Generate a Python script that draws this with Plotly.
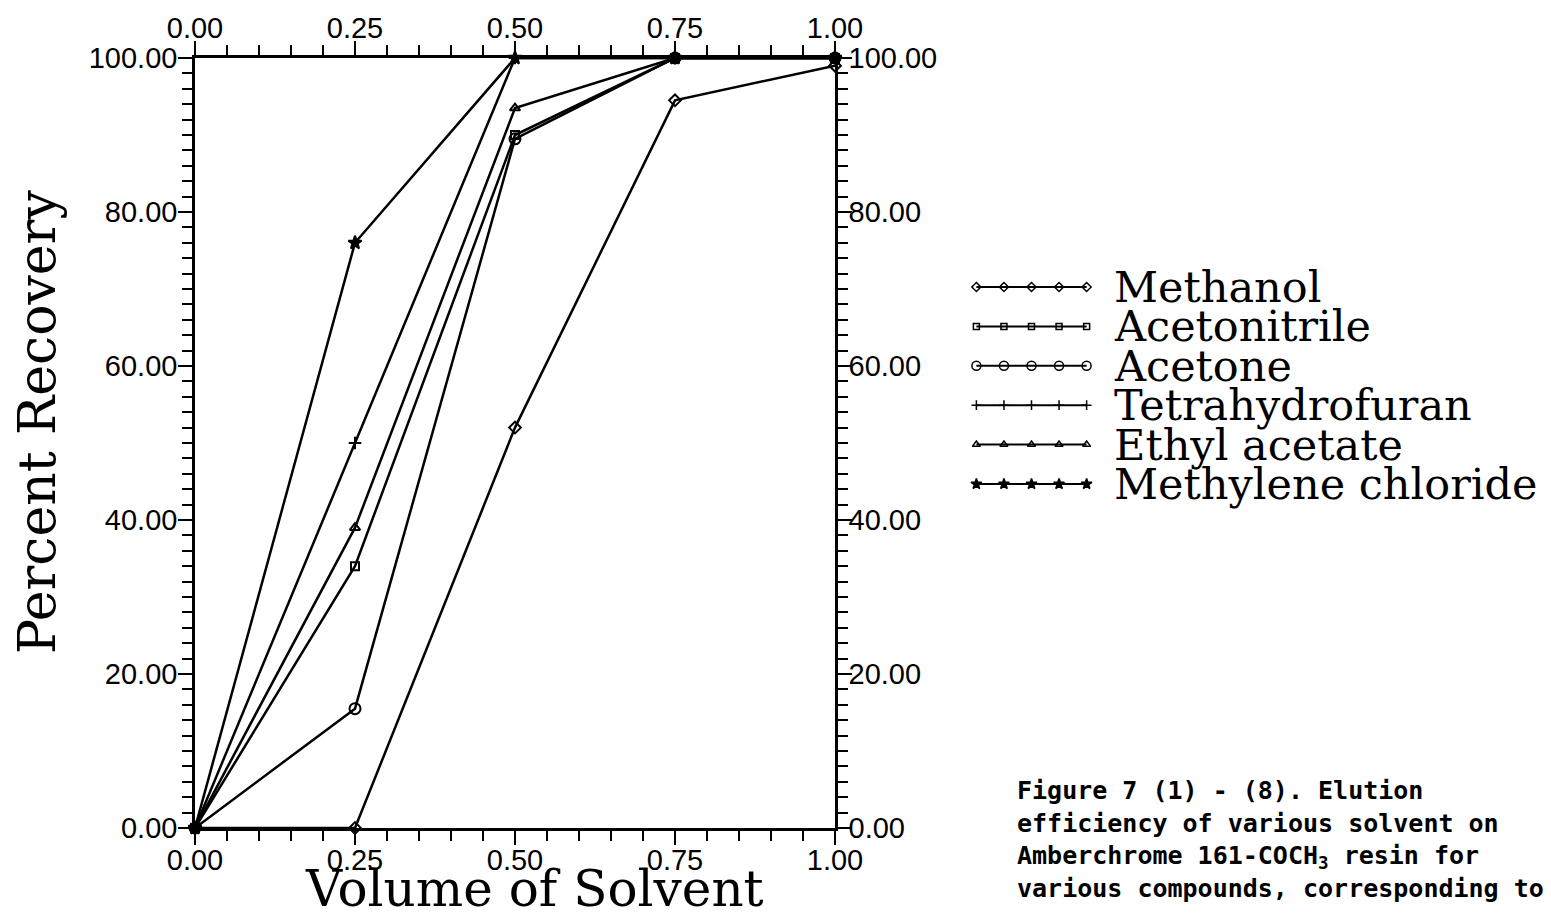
import plotly.graph_objects as go

volume = [0.0, 0.25, 0.50, 0.75, 1.00]
series_names = ["Methanol", "Acetonitrile", "Acetone", "Tetrahydrofuran",
                "Ethyl acetate", "Methylene chloride"]
methanol = [0.0, 0.0, 52.0, 94.5, 99.0]
acetonitrile = [0.0, 34.0, 90.0, 100.0, 100.0]
acetone = [0.0, 15.5, 89.5, 100.0, 100.0]
thf = [0.0, 50.0, 100.0, 100.0, 100.0]
ethyl_acetate = [0.0, 39.0, 93.5, 100.0, 100.0]
methylene_chloride = [0.0, 76.0, 100.0, 100.0, 100.0]
all_series = [methanol, acetonitrile, acetone, thf, ethyl_acetate, methylene_chloride]
symbols = ["diamond-open", "square-open", "circle-open", "cross-thin-open",
           "triangle-up-open", "star"]
sizes = [9, 8, 11, 9, 9, 10]

x_ticks = [0.0, 0.25, 0.5, 0.75, 1.0]
y_ticks = [0, 20, 40, 60, 80, 100]
caption = ("Figure 7 (1) - (8). Elution<br>"
           "efficiency of various solvent on<br>"
           "Amberchrome 161-COCH<sub>3</sub> resin for<br>"
           "various compounds, corresponding to")

W, H = 1551, 920
L, R, T, B = 195, 835, 58, 828
xd = [L / W, R / W]
yd = [(H - B) / H, (H - T) / H]

fig = go.Figure()
for name, vals, sym, sz in zip(series_names, all_series, symbols, sizes):
    fig.add_trace(go.Scatter(
        x=volume, y=vals, mode="lines+markers", name=name,
        line=dict(color="black", width=2.5),
        marker=dict(symbol=sym, size=sz, color="black",
                    line=dict(color="black", width=2)),
        cliponaxis=False, showlegend=False))

# custom legend samples
for i, (sym, sz) in enumerate(zip(symbols, sizes)):
    fig.add_trace(go.Scatter(
        x=[0, 1, 2, 3, 4], y=[i] * 5, mode="lines+markers",
        line=dict(color="black", width=2),
        marker=dict(symbol=sym, size=sz - 2, color="black",
                    line=dict(color="black", width=1.5)),
        xaxis="x3", yaxis="y3", cliponaxis=False, showlegend=False))

# dummy trace so that the x2/y2 mirror axes render
fig.add_trace(go.Scatter(x=[None], y=[None], xaxis="x2", yaxis="y2", showlegend=False))

tickfont = dict(family="Liberation Sans, Arial, sans-serif", size=29, color="black")
ax_common = dict(showgrid=False, zeroline=False, showline=True, linecolor="black",
                 linewidth=2.5, ticks="outside", tickcolor="black", tickwidth=2,
                 ticklen=14, tickfont=tickfont, automargin=False)

def minor(dt):
    return dict(dtick=dt, ticks="outside", ticklen=10, tickwidth=2, tickcolor="black")

fig.update_layout(
    width=W, height=H, margin=dict(l=0, r=0, t=0, b=0, autoexpand=False),
    paper_bgcolor="white", plot_bgcolor="white",
    xaxis=dict(domain=xd, range=[0, 1], tickvals=x_ticks,
               ticktext=[f"{v:.2f}" for v in x_ticks], minor=minor(0.05),
               ticklabelstandoff=-10, **ax_common),
    xaxis2=dict(domain=xd, range=[0, 1], overlaying="x", side="top", anchor="y",
                tickvals=x_ticks, ticktext=[f"{v:.2f}" for v in x_ticks],
                minor=minor(0.05), ticklabelstandoff=-8, **ax_common),
    yaxis=dict(domain=yd, range=[0, 100], tickvals=y_ticks,
               ticktext=[f"{v:.2f}" for v in y_ticks], minor=minor(2),
               ticklabelstandoff=-5, **ax_common),
    yaxis2=dict(domain=yd, range=[0, 100], overlaying="y", side="right", anchor="x",
                tickvals=y_ticks, ticktext=[f"{v:.2f}" for v in y_ticks],
                minor=minor(2), ticklabelstandoff=-9, **ax_common),
    xaxis3=dict(domain=[975 / W, 1088 / W], range=[-0.05, 4.05], visible=False),
    yaxis3=dict(domain=[(H - 503.7) / H, (H - 267.3) / H], range=[5.5, -0.5],
                visible=False, anchor="x3"),
)

serif = "DejaVu Serif, Liberation Serif, serif"
for i, name in enumerate(series_names):
    fig.add_annotation(text=name, xref="paper", yref="y3", x=1112 / W, y=i,
                       xanchor="left", yanchor="middle", showarrow=False,
                       font=dict(family=serif, size=43, color="black"))

fig.add_annotation(text="Percent Recovery", xref="paper", yref="paper",
                   x=37 / W, y=(H - 422) / H, textangle=-90, showarrow=False,
                   xanchor="center", yanchor="middle",
                   font=dict(family=serif, size=52, color="black"))
fig.add_annotation(text="Volume of Solvent", xref="paper", yref="paper",
                   x=534 / W, y=(H - 889) / H, showarrow=False,
                   xanchor="center", yanchor="middle",
                   font=dict(family=serif, size=50, color="black"))
fig.add_annotation(text=caption, xref="paper", yref="paper",
                   x=1015 / W, y=(H - 774) / H, showarrow=False, align="left",
                   xanchor="left", yanchor="top",
                   font=dict(family="DejaVu Sans Mono, monospace", size=25,
                             color="black", weight="bold"))

fig.write_html("out.html")
